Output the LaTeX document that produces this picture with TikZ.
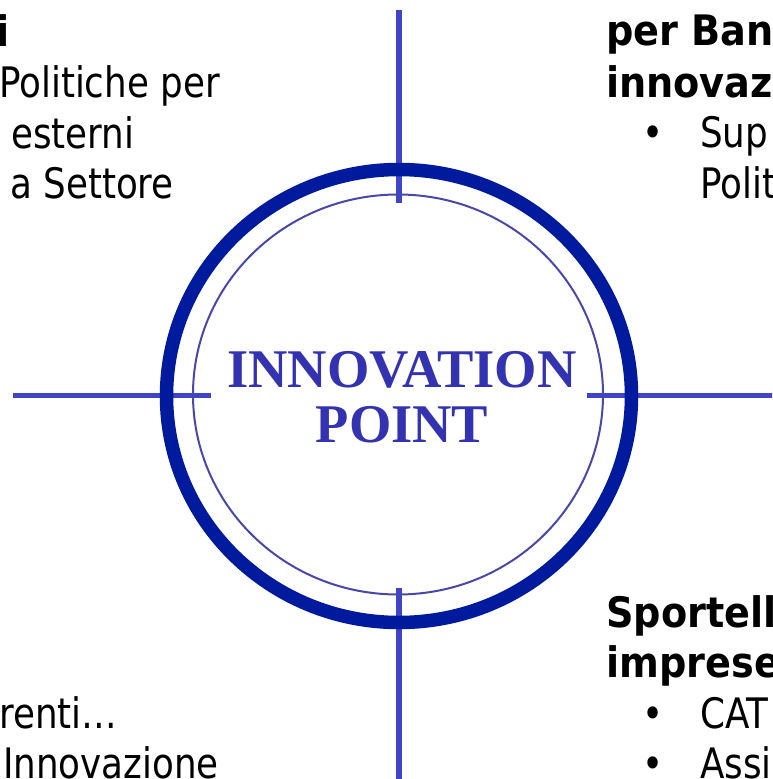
\documentclass[tikz,border=0pt]{standalone}
\usepackage{fontspec}
\usepackage{tikz}
\usetikzlibrary{shapes.geometric}
\newfontfamily\slidefont{DejaVu Sans}[FakeStretch=0.85,BoldFeatures={FakeStretch=0.91}]
\newfontfamily\titlefont{Liberation Serif}
\definecolor{ringblue}{RGB}{0,26,158}
\definecolor{lineblue}{RGB}{64,68,200}
\definecolor{thinblue}{RGB}{72,72,168}
\definecolor{titleblue}{RGB}{51,51,178}

\begin{document}
\begin{tikzpicture}[
  x=1pt,y=-1pt,
  ring/.style={draw=ringblue,line width=13.5pt,ellipse,inner sep=0pt},
  thinring/.style={draw=thinblue,line width=2pt,ellipse,inner sep=0pt},
  cross/.style={draw=lineblue,line width=5.5pt},
  title/.style={text=titleblue,font=\titlefont\bfseries\fontsize{54.5}{56}\selectfont,align=center,inner sep=0pt},
  txt/.style={inner sep=0pt,font=\slidefont\fontsize{42}{50}\selectfont},
  head/.style={txt,font=\slidefont\bfseries\fontsize{42}{50}\selectfont}
]
  \useasboundingbox (0,0) rectangle (772,779);
  \clip (0,0) rectangle (772,779);

  \coordinate (ntop) at (399,10);
  \coordinate (nbot) at (399,203);
  \coordinate (stop) at (399,588);
  \coordinate (sbot) at (399,790);
  \coordinate (wlft) at (13,395.5);
  \coordinate (wrgt) at (211,395.5);
  \coordinate (elft) at (587,395.5);
  \coordinate (ergt) at (790,395.5);
  \draw[cross] (ntop) -- (nbot);
  \draw[cross] (stop) -- (sbot);
  \draw[cross] (wlft) -- (wrgt);
  \draw[cross] (elft) -- (ergt);

  \node[ring,minimum width=465,minimum height=453] (outer) at (399,396) {};
  \node[thinring,minimum width=410,minimum height=400] (inner) at (398,394.5) {};
  \node[title,anchor=base] (ttl1) at (402,387) {INNOVATION};
  \node[title,anchor=base] (ttl2) at (402,442) {POINT};

  \node[head,anchor=base west] (nwh) at (-4,46) {i};
  \node[txt,anchor=base east] (nw1) at (220,97) {Politiche per};
  \node[txt,anchor=base west] (nw2) at (11,148) {esterni};
  \node[txt,anchor=base east] (nw3) at (174,198) {a Settore};

  \node[head,anchor=base west] (neh1) at (606,45) {per Ban};
  \node[head,anchor=base west] (neh2) at (606,97) {innovaz};
  \node[txt,anchor=base] (neb1) at (653,147) {\textbullet};
  \node[txt,anchor=base west] (ne1) at (700,147) {Sup};
  \node[txt,anchor=base west] (ne2) at (700,198) {Polit};

  \node[head,anchor=base west] (seh1) at (606,627) {Sportell};
  \node[head,anchor=base west] (seh2) at (606,677) {imprese};
  \node[txt,anchor=base] (seb1) at (653,728) {\textbullet};
  \node[txt,anchor=base west] (se1) at (700,728) {CAT};
  \node[txt,anchor=base] (seb2) at (653,778) {\textbullet};
  \node[txt,anchor=base west] (se2) at (700,778) {Assi};

  \node[txt,anchor=base west] (sw1) at (-1,728) {renti…};
  \node[txt,anchor=base east] (sw2) at (219,778) {Innovazione};
\end{tikzpicture}
\end{document}
